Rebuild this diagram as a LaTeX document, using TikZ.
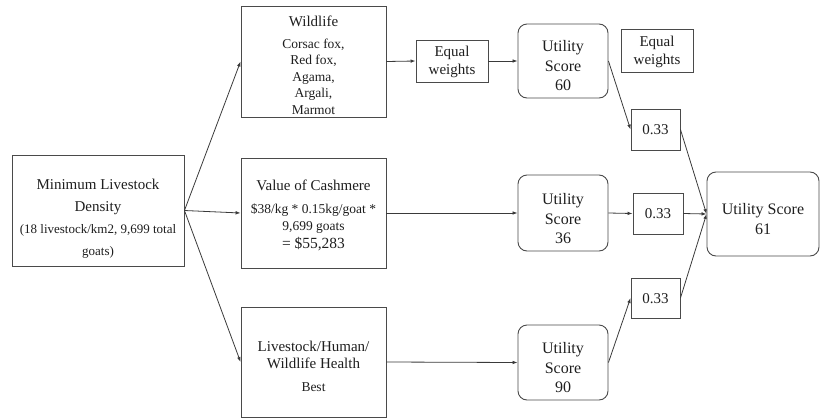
\documentclass[tikz,border=0pt]{standalone}
\usepackage{fontspec}
\setmainfont{Liberation Serif}
\usetikzlibrary{arrows.meta}

\definecolor{edgecol}{HTML}{4A4A4A}
\definecolor{linecol}{HTML}{3A3A3A}
\definecolor{txtcol}{HTML}{1E1E1E}

\tikzset{
  box/.style={draw=edgecol, line width=0.9pt, rectangle, inner sep=0pt,
    minimum width=#1},
  sbox/.style={draw=edgecol, line width=0.9pt, rectangle, rounded corners=9pt,
    inner sep=0pt},
  txt/.style={text=txtcol, align=center, inner sep=0pt},
  conn/.style={draw=linecol, line width=0.8pt,
    -{Latex[length=5pt,width=3.6pt]}},
}

\newcommand{\fs}[2]{\fontsize{#1}{#2}\selectfont}

\begin{document}
\begin{tikzpicture}[x=1pt, y=-1pt]
\useasboundingbox (0,0) rectangle (820,418);

% ---- boxes ----
\node[box=172pt, minimum height=111pt] (dens) at (98,210.5) {};
\node[box=145pt, minimum height=111pt] (wild) at (313.5,61.5) {};
\node[box=145pt, minimum height=110pt] (cash) at (313.5,213) {};
\node[box=145pt, minimum height=110pt] (health) at (313.5,362) {};
\node[box=72pt, minimum height=42pt] (eqa) at (452,61) {};
\node[box=72pt, minimum height=43pt] (eqb) at (657,50.5) {};
\node[sbox, minimum width=90pt, minimum height=74pt] (ua) at (563,61) {};
\node[sbox, minimum width=90pt, minimum height=76pt] (ub) at (563,213) {};
\node[sbox, minimum width=90pt, minimum height=75pt] (uc) at (563,362.5) {};
\node[box=49pt, minimum height=41pt] (wa) at (655.5,129.5) {};
\node[box=50pt, minimum height=41pt] (wb) at (658,213.5) {};
\node[box=49pt, minimum height=40pt] (wc) at (655.5,298) {};
\node[sbox, minimum width=112pt, minimum height=84pt] (fin) at (763,214) {};

% ---- texts ----
\node[txt, font=\fs{15}{22}] at (98,219)
  {Minimum Livestock\\Density\\{\fs{13}{22}(18 livestock/km2, 9,699 total}\\{\fs{13}{22}goats)}};
\node[txt, font=\fs{13.5}{16.5}] at (313.5,65)
  {{\fs{15}{16.5}Wildlife}\\[5.5pt]Corsac fox,\\Red fox,\\Agama,\\Argali,\\Marmot};
\node[txt, font=\fs{13.5}{16.5}] at (313.5,215.5)
  {{\fs{15}{16.5}Value of Cashmere}\\[6.5pt]\$38/kg * 0.15kg/goat *\\9,699 goats\\[1.5pt]{\fs{15.5}{16.5}= \$55,283}};
\node[txt, font=\fs{15}{17}] at (313.5,366)
  {Livestock/Human/\\Wildlife Health\\[6pt]{\fs{13.5}{17}Best}};
\node[txt, font=\fs{15}{18.5}] at (452,62) {Equal\\weights};
\node[txt, font=\fs{15}{18.5}] at (657,52) {Equal\\weights};
\node[txt, font=\fs{16}{19.5}] at (563,66) {Utility\\Score\\60};
\node[txt, font=\fs{16}{19.5}] at (563,219) {Utility\\Score\\36};
\node[txt, font=\fs{16}{19.5}] at (563,368) {Utility\\Score\\90};
\node[txt, font=\fs{15}{18}] at (655.5,130) {0.33};
\node[txt, font=\fs{15}{18}] at (658,214) {0.33};
\node[txt, font=\fs{15}{18}] at (655.5,298.5) {0.33};
\node[txt, font=\fs{16}{20}] at (763,219) {Utility Score\\61};

% ---- connectors ----
\draw[conn] (dens.east) -- (wild.west);
\draw[conn] (dens.east) -- (cash.west);
\draw[conn] (dens.east) -- (health.west);
\draw[conn] (wild.east) -- (eqa.west);
\draw[conn] (eqa.east) -- (ua.west);
\draw[conn] (cash.east) -- (ub.west);
\draw[conn] (health.east) -- (uc.west);
\draw[conn] (ua.east) -- (wa.west);
\draw[conn] (ub.east) -- (wb.west);
\draw[conn] (uc.east) -- (wc.west);
\draw[conn] (wa.east) -- (fin.west);
\draw[conn] (wb.east) -- (fin.west);
\draw[conn] (wc.east) -- (fin.west);
\end{tikzpicture}
\end{document}
